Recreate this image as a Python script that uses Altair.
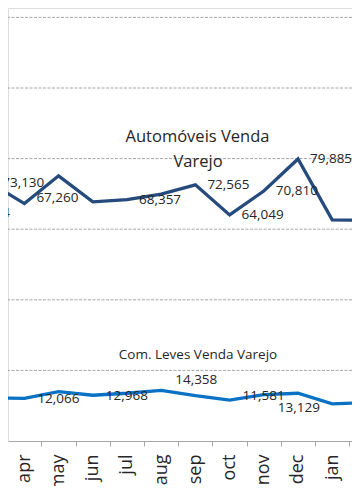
import altair as alt
import pandas as pd

# ---- data ----
months = ["feb", "mar", "apr", "may", "jun", "jul", "aug", "sep", "oct", "nov", "dec", "jan", "feb"]
auto_values = [64564, 73130, 67260, 75120, 67750, 68357, 69930, 72565, 64049, 70810, 79885, 62640, 62550]
leves_values = [9886, 12250, 12066, 13990, 12968, 13530, 14358, 12850, 11581, 13129, 13530, 10500, 10860]
auto_labeled = [0, 1, 2, 5, 7, 8, 9, 10]
leves_labeled = [0, 2, 4, 6, 8, 9]
y_ticks = [20000, 40000, 60000, 80000, 100000, 120000]
auto_title = ["Automóveis Venda", "Varejo"]
leves_title = "Com. Leves Venda Varejo"

AUTO = "Automóveis Venda Varejo"
LEVES = "Com. Leves Venda Varejo"

rows = []
for i, m in enumerate(months):
    rows.append({"idx": i, "month": m, "series": AUTO, "value": auto_values[i]})
    rows.append({"idx": i, "month": m, "series": LEVES, "value": leves_values[i]})
df = pd.DataFrame(rows)
grid_df = pd.DataFrame({"value": y_ticks})

FONT = "Open Sans"
TXT = "#262626"
GRID = "#a6a6a6"

W, H = 344, 433
x_dom = [1.5205, 11.579]
y_dom = [0, 122663]

month_arr = "[" + ",".join("'" + m + "'" for m in months) + "]"
tick_vals = [i + 0.5 for i in range(2, 12)] + list(range(2, 12))

x_enc = alt.X(
    "idx:Q",
    scale=alt.Scale(domain=x_dom, nice=False, zero=False),
    axis=alt.Axis(
        values=tick_vals,
        title=None,
        grid=False,
        gridOpacity=0,
        domain=True,
        domainColor=GRID,
        domainWidth=1,
        ticks=True,
        tickSize=5,
        tickColor=GRID,
        tickWidth=1,
        tickOpacity={"condition": {"test": "datum.value % 1 === 0", "value": 0}, "value": 1},
        labelExpr="datum.value % 1 === 0 ? " + month_arr + "[datum.value] : ''",
        labelAngle=-90,
        labelAlign="right",
        labelBaseline="middle",
        labelFont=FONT,
        labelFontSize=18,
        labelColor=TXT,
        labelPadding=8,
        labelOverlap=False,
        labelBound=False,
        labelFlush=False,
    ),
)
y_enc = alt.Y("value:Q", scale=alt.Scale(domain=y_dom, nice=False), axis=None)

gridlines = alt.Chart(grid_df).mark_rule(
    color=GRID, strokeWidth=1, strokeDash=[3, 1.5]
).encode(y=y_enc)

base = alt.Chart(df)

lines = base.mark_line(strokeWidth=3.3, clip=True).encode(
    x=x_enc,
    y=y_enc,
    color=alt.Color(
        "series:N",
        scale=alt.Scale(domain=[AUTO, LEVES], range=["#254a7c", "#0a72c4"]),
        legend=None,
    ),
    detail="series:N",
)

def labels(series, dx, dy, idxs):
    return (
        base.transform_filter(alt.datum.series == series)
        .transform_filter(alt.FieldOneOfPredicate(field="idx", oneOf=idxs))
        .mark_text(align="left", baseline="middle", dx=dx, dy=dy, font=FONT,
                   fontSize=13.5, color=TXT, clip=True)
        .encode(x=x_enc, y=y_enc, text=alt.Text("value:Q", format=",d"))
    )

auto_main = [i for i in auto_labeled if i != 2]
leves_main = [i for i in leves_labeled if i not in (6, 8, 9)]

layers = [
    gridlines,
    lines,
    labels(AUTO, 12, 0, auto_main),
    labels(AUTO, 12, -6, [2]),
    labels(LEVES, 13, 1, leves_main),
    labels(LEVES, 14, -10, [6]),
    labels(LEVES, 13, -4.5, [8]),
    labels(LEVES, 14, 13.5, [9]),
]

one = pd.DataFrame({"t": [0]})
title1a = alt.Chart(one).mark_text(
    text=auto_title[0], font=FONT, fontSize=16.5, color=TXT, align="center", baseline="middle",
).encode(x=alt.value(189.5), y=alt.value(129))
title1b = alt.Chart(one).mark_text(
    text=auto_title[1], font=FONT, fontSize=16.5, color=TXT, align="center", baseline="middle",
).encode(x=alt.value(190), y=alt.value(154))
title2 = alt.Chart(one).mark_text(
    text=leves_title, font=FONT, fontSize=13.5, color=TXT, align="center", baseline="middle",
).encode(x=alt.value(190), y=alt.value(347))

chart = (
    alt.layer(*layers, title1a, title1b, title2)
    .properties(
        width=W,
        height=H,
        autosize=alt.AutoSizeParams(type="none"),
        padding={"left": 0, "top": 0, "right": 0, "bottom": 45},
    )
    .configure_view(stroke="transparent", strokeOpacity=0, strokeWidth=0)
    .configure_axis(grid=False)
    .configure(background="white")
)

chart.save("out.html", embed_options={"renderer": "svg", "actions": False})
